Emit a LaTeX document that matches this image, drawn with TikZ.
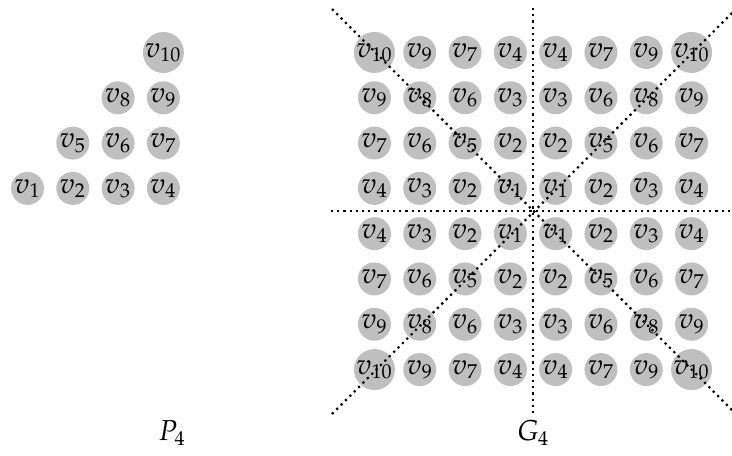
\documentclass[tikz,border=0pt]{standalone}
\usepackage{mathpazo}
\begin{document}
\begin{tikzpicture}[x=0.5pt,y=-0.5pt,
  vtx/.style={circle,fill=black!25,minimum size=16.5pt,inner sep=0pt,font=\Large},
  bigvtx/.style={vtx,minimum size=20.5pt},
  caption/.style={font=\Large},
  axis/.style={dotted,line width=1.1pt}]
\useasboundingbox (0,0) rectangle (732,455);
% P4
\foreach \a/\b/\l in {1/1/1,2/1/2,3/1/3,4/1/4,2/2/5,3/2/6,4/2/7,3/3/8,4/3/9}
  \node[vtx] (p\l) at ({27.5+(\a-1)*45.3},{188.4-(\b-1)*45.3}) {$v_{\l}$};
\node[bigvtx] (p10) at ({27.5+3*45.3},{188.4-3*45.3}) {$v_{10}$};
\node[caption] (P) at (172,433) {$P_4$};
% G4
\coordinate (c) at (533,211);
\foreach \a/\b/\l in {1/1/1,2/1/2,3/1/3,4/1/4,1/2/2,2/2/5,3/2/6,4/2/7,1/3/3,2/3/6,3/3/8,4/3/9,1/4/4,2/4/7,3/4/9}
  \foreach \sx/\nx in {-1/L,1/R}
    \foreach \sy/\ny in {-1/T,1/B}
      \node[vtx] (g\nx\ny\a\b) at ({533+\sx*(\a-0.5)*45.3},{211+\sy*(\b-0.5)*45.3}) {$v_{\l}$};
\foreach \sx/\nx in {-1/L,1/R}
  \foreach \sy/\ny in {-1/T,1/B}
    \node[bigvtx] (g\nx\ny44) at ({533+\sx*3.5*45.3},{211+\sy*3.5*45.3}) {$v_{10}$};
\node[caption] (G) at (533,433) {$G_4$};
% axes
\coordinate (hl) at (331,211);
\coordinate (hr) at (732,211);
\coordinate (vt) at (533,8);
\coordinate (vb) at (533,415);
\coordinate (d1) at (332,9);
\coordinate (d2) at (732,410);
\coordinate (d3) at (332,414);
\coordinate (d4) at (732,13);
\draw[axis] (hl) -- (hr);
\draw[axis] (vt) -- (vb);
\draw[axis] (d1) -- (d2);
\draw[axis] (d3) -- (d4);
\end{tikzpicture}
\end{document}
